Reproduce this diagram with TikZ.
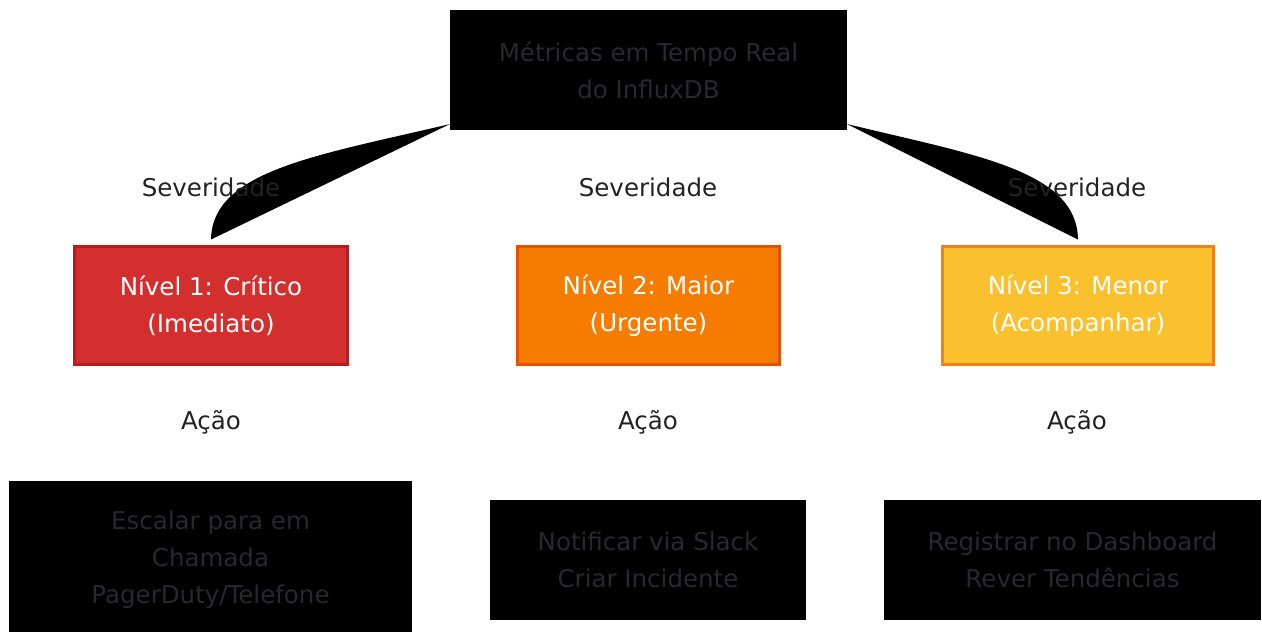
\documentclass[tikz,border=0pt]{standalone}
\usepackage{fontspec}
\setmainfont{DejaVu Sans}
\usepackage{tikz}
\usetikzlibrary{positioning}
\usepackage{xcolor}
\definecolor{lbltxt}{HTML}{222222}
\definecolor{darktxt}{HTML}{29292D}
\definecolor{critfill}{HTML}{D32F2F}
\definecolor{critline}{HTML}{B71C1C}
\definecolor{majfill}{HTML}{F57C00}
\definecolor{majline}{HTML}{E65100}
\definecolor{minfill}{HTML}{FBC02D}
\definecolor{minline}{HTML}{F57F17}

\tikzset{
  box/.style={rectangle, inner sep=0pt, outer sep=0pt, align=center,
    font=\fontsize{24.5}{37}\selectfont},
  darkbox/.style={box, fill=black, text=darktxt},
  levelbox/.style={box, line width=3pt, text=white, minimum height=118pt},
  lbl/.style={text=lbltxt, font=\fontsize{24.5}{30}\selectfont},
}

\begin{document}
\begin{tikzpicture}[x=1pt,y=-1pt]
\useasboundingbox (0,0) rectangle (1262,633);
% source
\node[darkbox, minimum width=397pt, minimum height=120pt] (src) at (648.5,70)
  {Métricas em Tempo Real\\do InfluxDB};
% severity levels
\node[levelbox, fill=critfill, draw=critline, minimum width=273pt] (lvl1) at (211,305.5)
  {Nível 1: Crítico\\(Imediato)};
\node[levelbox, fill=majfill, draw=majline, minimum width=262pt] (lvl2) at (648.5,305.5)
  {Nível 2: Maior\\(Urgente)};
\node[levelbox, fill=minfill, draw=minline, minimum width=271pt] (lvl3) at (1078,305.5)
  {Nível 3: Menor\\(Acompanhar)};
% actions
\node[darkbox, minimum width=403pt, minimum height=151pt] (act1) at (210.5,556.5) {};
\node[box, text=darktxt] (act1txt) at (210.5,560)
  {Escalar para em\\Chamada\\PagerDuty/Telefone};
\node[darkbox, minimum width=316pt, minimum height=120pt] (act2) at (648,560)
  {Notificar via Slack\\Criar Incidente};
\node[darkbox, minimum width=377pt, minimum height=120pt] (act3) at (1072.5,560)
  {Registrar no Dashboard\\Rever Tendências};

% edges (filled curves)
\coordinate (e1a) at ([yshift=6pt]src.south west);
\coordinate (e1b) at ([yshift=7pt]lvl1.north);
\coordinate (e3a) at ([yshift=6pt]src.south east);
\coordinate (e3b) at ([yshift=7pt]lvl3.north);
\fill (e1a) .. controls (320,155) and (212,170) .. (e1b) -- cycle;
\fill (e3a) .. controls (974,155) and (1077,170) .. (e3b) -- cycle;

% edge labels
\node[lbl] (sev1) at (211,187) {Severidade};
\node[lbl] (sev2) at (648,187) {Severidade};
\node[lbl] (sev3) at (1077,187) {Severidade};
\node[lbl] (acao1) at (211,422) {Ação};
\node[lbl] (acao2) at (648,422) {Ação};
\node[lbl] (acao3) at (1077,422) {Ação};
\end{tikzpicture}
\end{document}
